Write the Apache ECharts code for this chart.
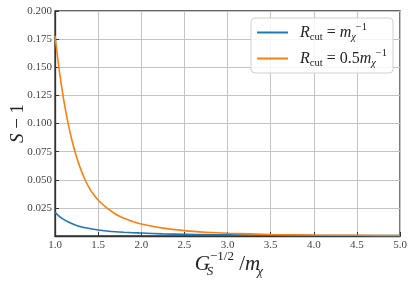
<!DOCTYPE html>
<html>
<head>
<meta charset="utf-8">
<script src="https://cdn.jsdelivr.net/npm/echarts@6/dist/echarts.min.js"></script>
<style>html,body{margin:0;padding:0;background:#fff}#c{width:415px;height:285px}</style>
</head>
<body>
<div id="c"></div>
<script>
const xValues = [1.0,1.05,1.1,1.15,1.2,1.25,1.3,1.35,1.4,1.45,1.5,1.6,1.7,1.8,1.9,2.0,2.25,2.5,2.75,3.0,3.5,4.0,4.5,5.0];
const seriesHalf = [0.178,0.147,0.1215,0.1008,0.084,0.0703,0.059,0.0498,0.0424,0.0367,0.032,0.0249,0.0196,0.0157,0.0128,0.0106,0.0070,0.0048,0.0034,0.0025,0.0014,0.0009,0.0006,0.0004];
const seriesOne = [0.021,0.0175,0.0148,0.0126,0.0108,0.0094,0.0082,0.0073,0.0066,0.0060,0.0054,0.0045,0.0038,0.0033,0.0029,0.0026,0.0019,0.0015,0.0012,0.0010,0.0007,0.0005,0.0004,0.0003];
const seriesNames = ['one', 'half'];

const serif = "'Liberation Serif', 'DejaVu Serif', serif";
const rich = {
  it: {fontFamily: serif, fontStyle: 'italic', fontSize: 16, color: '#222', lineHeight: 21, verticalAlign: 'middle'},
  rm: {fontFamily: serif, fontSize: 16, color: '#222', lineHeight: 21, verticalAlign: 'middle'},
  sub: {fontFamily: serif, fontSize: 10.5, color: '#222', lineHeight: 21, verticalAlign: 'bottom'},
  subit: {fontFamily: serif, fontStyle: 'italic', fontSize: 10.5, color: '#222', lineHeight: 21, verticalAlign: 'bottom'},
  sup: {fontFamily: serif, fontSize: 10.5, color: '#222', lineHeight: 21, verticalAlign: 'top'}
};
const chart = echarts.init(document.getElementById('c'));
chart.setOption({
  animation: false,
  grid: {left: 55, right: 15, top: 11, bottom: 49, show: true, borderColor: '#333', borderWidth: 1.3,
         containLabel: false, outerBoundsMode: 'none'},
  legend: {
    orient: 'vertical', right: 22, top: 18,
    padding: [4, 6, 4, 6], itemGap: 5,
    backgroundColor: 'rgba(255,255,255,0.85)', borderColor: '#d0d0d0', borderWidth: 1, borderRadius: 4,
    icon: 'rect', itemWidth: 31, itemHeight: 2,
    data: seriesNames,
    formatter: function (n) {
      return n === 'one'
        ? '{it|R}{sub|cut}{rm| = }{it|m}{subit|χ}{sup|−1}'
        : '{it|R}{sub|cut}{rm| = 0.5}{it|m}{subit|χ}{sup|−1}';
    },
    textStyle: {rich: rich, padding: [0, 0, 0, 7]}
  },
  xAxis: {
    type: 'value', min: 1, max: 5, interval: 0.5,
    name: '{it|G}{sub|S}{sup|−1/2}{rm| /}{it|m}{sub|χ}',
    nameLocation: 'middle', nameGap: 14, nameMoveOverlap: false,
    nameTextStyle: {verticalAlign: 'top', rich: {
      it: {fontFamily: serif, fontStyle: 'italic', fontSize: 21, color: '#222', lineHeight: 28, verticalAlign: 'middle'},
      rm: {fontFamily: serif, fontSize: 21, color: '#222', lineHeight: 28, verticalAlign: 'middle'},
      sup: {fontFamily: serif, fontSize: 13, color: '#222', lineHeight: 28, verticalAlign: 'top'},
      sub: {fontFamily: serif, fontStyle: 'italic', fontSize: 13, color: '#222', lineHeight: 28, verticalAlign: 'bottom', width: 0.1}
    }},
    axisLine: {show: true, lineStyle: {color: '#333', width: 1.3}},
    axisTick: {show: true, inside: true, length: 4, lineStyle: {color: '#333'}},
    axisLabel: {fontFamily: serif, fontSize: 11, color: '#444', margin: 4, formatter: v => v.toFixed(1)},
    splitLine: {show: true, lineStyle: {color: '#c4c4c4', width: 1}}
  },
  yAxis: {
    type: 'value', min: 0, max: 0.2, interval: 0.025,
    name: '{it|S}{rm| − 1}',
    nameLocation: 'middle', nameGap: 37, nameRotate: 90, nameMoveOverlap: false,
    nameTextStyle: {verticalAlign: 'middle', rich: {
      it: {fontFamily: serif, fontStyle: 'italic', fontSize: 19, color: '#222'},
      rm: {fontFamily: serif, fontSize: 19, color: '#222'}
    }},
    axisLine: {show: true, lineStyle: {color: '#333', width: 1.3}},
    axisTick: {show: true, inside: true, length: 4, lineStyle: {color: '#333'}},
    axisLabel: {fontFamily: serif, fontSize: 11, color: '#444', margin: 3, formatter: v => v === 0 ? '' : v.toFixed(3)},
    splitLine: {show: true, lineStyle: {color: '#c4c4c4', width: 1}}
  },
  series: [
    {name: 'one', type: 'line', smooth: 0.3, showSymbol: false, color: '#1f77b4', lineStyle: {width: 1.6},
     data: xValues.map((x, i) => [x, seriesOne[i]])},
    {name: 'half', type: 'line', smooth: 0.3, showSymbol: false, color: '#ff7f0e', lineStyle: {width: 1.6},
     data: xValues.map((x, i) => [x, seriesHalf[i]])}
  ]
});
</script>
</body>
</html>
